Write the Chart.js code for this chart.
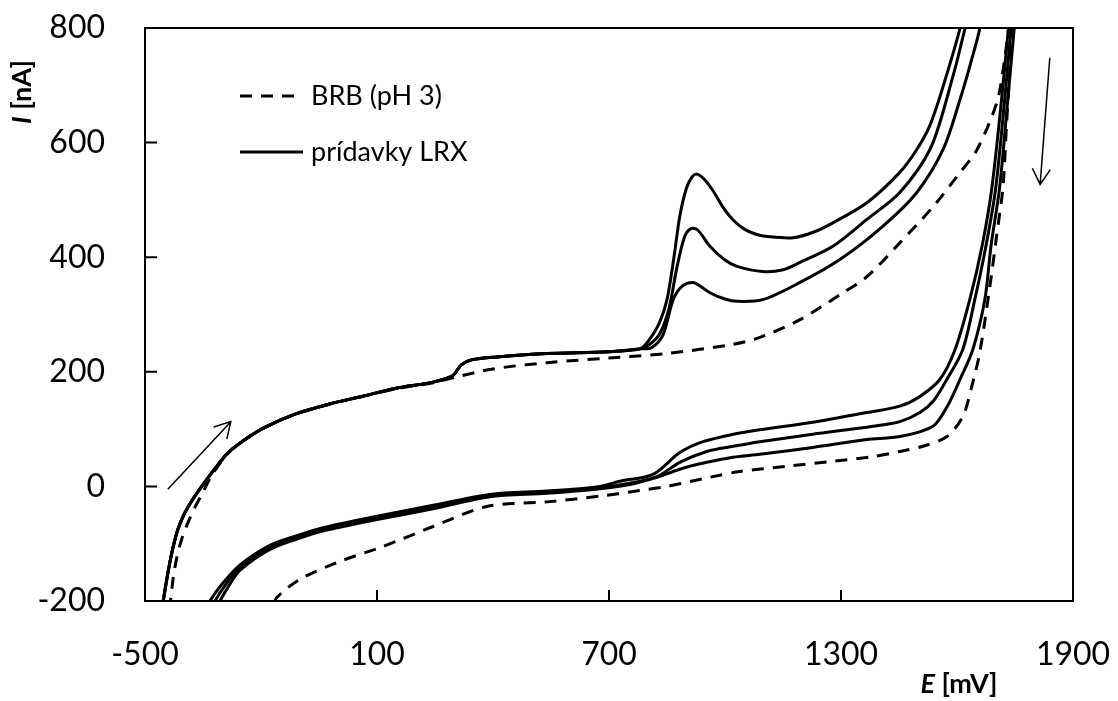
<!DOCTYPE html>
<html>
<head>
<meta charset="utf-8">
<script src="https://cdn.jsdelivr.net/npm/chart.js@4.4.0/dist/chart.umd.min.js"></script>
<style>
  html, body { margin: 0; padding: 0; background: #fff; }
</style>
</head>
<body>
<canvas id="cvChart" width="1118" height="701"></canvas>
<script>
// cyclic voltammograms, E [mV] vs I [nA], loops as [E, I] pairs
const xTicks = [-500, 100, 700, 1300, 1900];
const yTicks = [-200, 0, 200, 400, 600, 800];

// blank electrolyte (dashed)
const brbLoop = [
  [-437,-215],[-434,-200],[-427,-160],[-418,-125],[-405,-92],[-390,-65],[-372,-38],[-350,-10],
  [-327,20],[-285,58],[-241,82],[-190,103],[-112,126],[-27,143],[61,157],[147,170],[245,181],
  [300,190],[400,205],[540,216],[700,224],[850,232],[1021,248],[1090,260],[1194,291],
  [1305,338],[1367,366],[1452,425],[1538,488],[1608,548],[1652,588],[1703,670],[1722,740],
  [1742,850],[1760,1000],[1752,860],[1738,740],[1728,630],[1719,523],[1703,440],[1685,349],
  [1659,234],[1638,174],[1615,122],[1574,87],[1512,70],[1452,61],[1383,52],[1279,44],
  [1160,35],[1038,26],[961,16],[850,0],[762,-9],[677,-17],[540,-27],[384,-35],[245,-70],
  [115,-105],[4,-131],[-99,-162],[-159,-194],[-172,-215]
];

// common anodic start of the LRX additions
const lrxStart = [
  [-458,-220],[-453,-200],[-440,-148],[-428,-108],[-415,-75],[-400,-50],[-386,-33],[-371,-17],
  [-350,3],[-327,24],[-285,59],[-241,82],[-190,103],[-112,126],[-27,143],[61,157],[147,171],
  [245,182],[295,193],[318,212],[345,221],[410,226],[540,232],[700,235],[780,240]
];

const lrx1 = [
  [810,242],[840,265],[866,326],[890,350],[917,356],[935,350],[961,338],[1000,327],[1031,323],
  [1098,326],[1194,356],[1297,396],[1408,454],[1496,513],[1564,588],[1610,680],[1640,750],
  [1659,800],[1680,900],[1720,1050],[1758,880],[1748,800],[1732,680],[1710,520],[1688,420],
  [1672,326],[1641,239],[1608,187],[1575,140],[1538,105],[1452,87],[1367,82],[1227,68],
  [1090,56],[1021,51],[953,42],[883,30],[824,16],[750,3],[677,-4],[540,-12],[392,-18],
  [245,-39],[100,-58],[-40,-78],[-107,-92],[-177,-110],[-254,-146],[-280,-170],[-306,-200],
  [-318,-220]
];

const lrx2 = [
  [800,245],[830,265],[855,310],[875,380],[895,435],[912,450],[930,447],[961,419],[1000,395],
  [1031,384],[1098,375],[1150,378],[1194,391],[1279,419],[1367,466],[1452,513],[1530,588],
  [1575,680],[1621,800],[1650,900],[1710,1050],[1750,880],[1740,800],[1724,680],[1700,520],
  [1675,420],[1646,326],[1615,239],[1574,187],[1540,150],[1504,129],[1452,113],[1383,105],
  [1227,91],[1090,78],[1021,70],[953,61],[883,42],[824,17],[750,5],[677,-2],[540,-10],
  [392,-16],[245,-36],[100,-55],[-40,-75],[-107,-89],[-177,-106],[-254,-141],[-290,-170],
  [-319,-200],[-332,-220]
];

const lrx3 = [
  [800,252],[830,285],[850,326],[868,400],[883,471],[900,520],[915,540],[927,545],[945,537],
  [969,516],[995,487],[1021,465],[1050,449],[1080,440],[1110,436],[1176,434],[1230,444],
  [1279,460],[1367,495],[1452,548],[1496,588],[1530,630],[1565,700],[1608,800],[1640,900],
  [1700,1050],[1745,880],[1733,800],[1716,680],[1690,520],[1665,420],[1633,326],[1595,239],
  [1556,187],[1504,157],[1452,140],[1367,129],[1227,112],[1090,99],[1021,91],[943,78],
  [883,59],[814,21],[728,9],[677,0],[540,-8],[392,-14],[245,-33],[100,-52],[-40,-72],
  [-107,-86],[-177,-103],[-254,-137],[-300,-170],[-332,-200],[-345,-220]
];

// scan direction arrows, [E, I] from -> to
const arrowAnodic = [[-441,-5],[-278,113]];
const arrowCathodic = [[1840,748],[1815,527]];

const toXY = pts => pts.map(p => ({x: p[0], y: p[1]}));

const FONT = "Lato, 'Open Sans', sans-serif";
const DASH = [12, 9];

const lineSet = (label, pts, dash) => ({
  label: label,
  data: toXY(pts),
  showLine: true,
  borderColor: '#000',
  borderWidth: 3,
  borderDash: dash,
  pointRadius: 0,
  tension: 0.3,
  fill: false
});

const drawArrow = (ctx, x, y, seg) => {
  const x1 = x.getPixelForValue(seg[0][0]), y1 = y.getPixelForValue(seg[0][1]);
  const x2 = x.getPixelForValue(seg[1][0]), y2 = y.getPixelForValue(seg[1][1]);
  const ang = Math.atan2(y2 - y1, x2 - x1);
  const len = 18, spread = Math.PI / 6;
  ctx.beginPath();
  ctx.moveTo(x1, y1);
  ctx.lineTo(x2, y2);
  ctx.moveTo(x2 - len * Math.cos(ang - spread), y2 - len * Math.sin(ang - spread));
  ctx.lineTo(x2, y2);
  ctx.lineTo(x2 - len * Math.cos(ang + spread), y2 - len * Math.sin(ang + spread));
  ctx.stroke();
};

// writes italic symbol + bold unit, centred on (cx, cy)
const drawAxisTitle = (ctx, sym, unit, cx, cy, rot) => {
  ctx.save();
  ctx.translate(cx, cy);
  if (rot) ctx.rotate(-Math.PI / 2);
  ctx.fillStyle = '#000';
  ctx.textBaseline = 'middle';
  ctx.textAlign = 'left';
  const fSym = "italic bold 27px " + FONT;
  const fUnit = "bold 27px " + FONT;
  ctx.font = fSym;
  const w1 = ctx.measureText(sym).width;
  ctx.font = fUnit;
  const w2 = ctx.measureText(unit).width;
  const start = -(w1 + w2) / 2;
  ctx.font = fSym;
  ctx.fillText(sym, start, 0);
  ctx.font = fUnit;
  ctx.fillText(unit, start + w1, 0);
  ctx.restore();
};

const decor = {
  id: 'decor',
  afterDatasetsDraw(chart) {
    const {ctx, chartArea: a, scales: {x, y}} = chart;
    ctx.save();
    ctx.strokeStyle = '#000';
    ctx.lineWidth = 2;
    ctx.strokeRect(a.left, a.top, a.right - a.left, a.bottom - a.top);

    // tick marks pointing into the plot
    ctx.beginPath();
    xTicks.forEach(v => {
      const px = x.getPixelForValue(v);
      ctx.moveTo(px, a.bottom);
      ctx.lineTo(px, a.bottom - 11);
    });
    yTicks.forEach(v => {
      const py = y.getPixelForValue(v);
      ctx.moveTo(a.left, py);
      ctx.lineTo(a.left + 12, py);
    });
    ctx.stroke();

    // arrows
    ctx.lineWidth = 1.5;
    drawArrow(ctx, x, y, arrowAnodic);
    drawArrow(ctx, x, y, arrowCathodic);

    // legend
    const ds = chart.data.datasets;
    const lx = a.left + 95, tx = a.left + 166;
    const rows = [a.top + 68, a.top + 124];
    ctx.lineWidth = 3;
    ctx.font = "27px " + FONT;
    ctx.fillStyle = '#000';
    ctx.textBaseline = 'middle';
    [ds[0], ds[1]].forEach((d, i) => {
      ctx.setLineDash(d.borderDash || []);
      ctx.beginPath();
      ctx.moveTo(lx, rows[i]);
      ctx.lineTo(lx + 63, rows[i]);
      ctx.stroke();
      ctx.setLineDash([]);
      ctx.fillText(d.label, tx, rows[i]);
    });

    drawAxisTitle(ctx, 'E', ' [mV]', a.right - 114, chart.height - 17, false);
    drawAxisTitle(ctx, 'I', ' [nA]', 22, a.top + 64, true);
    ctx.restore();
  }
};

const plainLabel = v => String(v);

new Chart(document.getElementById('cvChart'), {
  type: 'scatter',
  data: {
    datasets: [
      lineSet('BRB (pH 3)', brbLoop, DASH),
      lineSet('prídavky LRX', lrxStart.concat(lrx1), []),
      lineSet('prídavky LRX', lrxStart.concat(lrx2), []),
      lineSet('prídavky LRX', lrxStart.concat(lrx3), [])
    ]
  },
  options: {
    responsive: false,
    devicePixelRatio: 1,
    animation: false,
    layout: { padding: { top: 28, right: 45, left: 0, bottom: 0 } },
    plugins: { legend: { display: false }, tooltip: { enabled: false } },
    scales: {
      x: {
        type: 'linear',
        min: -500, max: 1900,
        afterBuildTicks: s => { s.ticks = xTicks.map(v => ({value: v})); },
        afterFit: s => { s.height = 100; s.paddingLeft = 0; s.paddingRight = 0; },
        grid: { display: false, drawTicks: false },
        border: { display: false },
        ticks: { color: '#000', padding: 34, callback: plainLabel, font: { family: FONT, size: 32 } }
      },
      y: {
        type: 'linear',
        min: -200, max: 800,
        afterBuildTicks: s => { s.ticks = yTicks.map(v => ({value: v})); },
        afterFit: s => { s.width = 145; s.paddingTop = 0; s.paddingBottom = 0; },
        grid: { display: false, drawTicks: false },
        border: { display: false },
        ticks: { color: '#000', padding: 40, callback: plainLabel, font: { family: FONT, size: 32 } }
      }
    }
  },
  plugins: [decor]
});
</script>
</body>
</html>
